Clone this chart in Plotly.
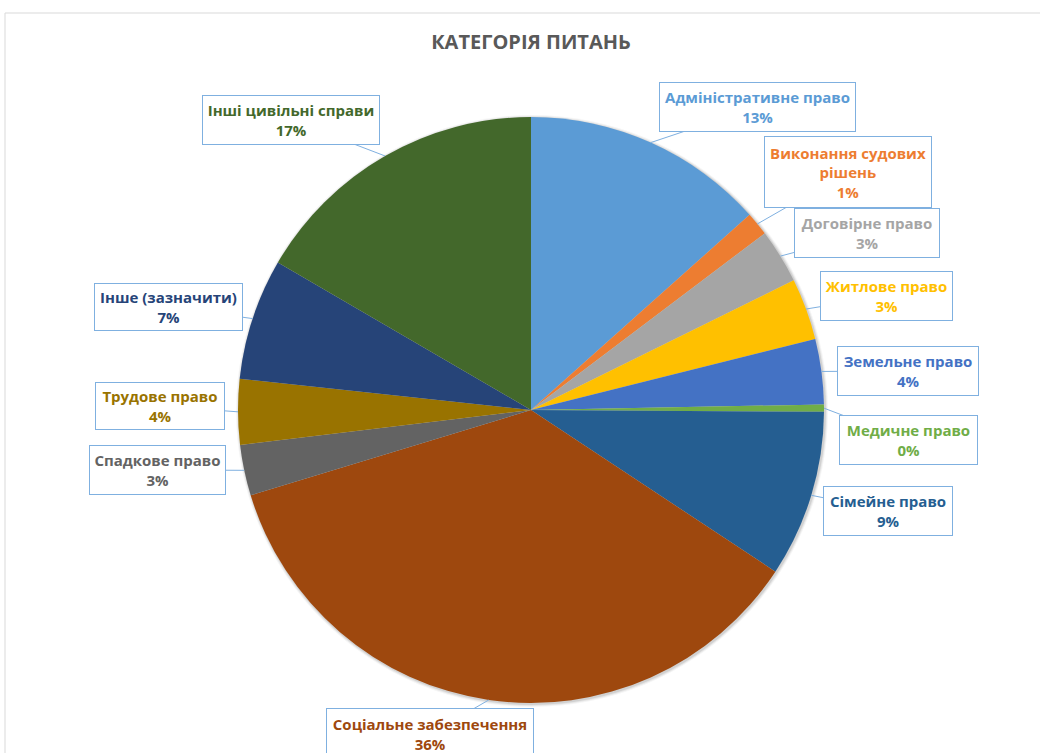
import math
import plotly.graph_objects as go

# ---- data ----
categories = [
    "Адміністративне право", "Виконання судових рішень", "Договірне право",
    "Житлове право", "Земельне право", "Медичне право", "Сімейне право",
    "Соціальне забезпечення", "Спадкове право", "Трудове право",
    "Інше (зазначити)", "Інші цивільні справи",
]
values = [13.4, 1.3, 3.0, 3.4, 3.6, 0.4, 9.2, 36.0, 2.8, 3.6, 6.7, 16.6]
label_text = [
    "Адміністративне право", "Виконання судових<br>рішень", "Договірне право",
    "Житлове право", "Земельне право", "Медичне право", "Сімейне право",
    "Соціальне забезпечення", "Спадкове право", "Трудове право",
    "Інше (зазначити)", "Інші цивільні справи",
]
colors = ["#5B9BD5", "#ED7D31", "#A5A5A5", "#FFC000", "#4472C4", "#70AD47",
          "#255E91", "#9E480E", "#636363", "#997300", "#264478", "#43682B"]
title_text = "КАТЕГОРІЯ ПИТАНЬ"

# ---- layout constants (pixels) ----
W, H = 1040, 753
CX, CY, R = 531, 410, 293
# label box centres and sizes (pixels)
box_pos = [(757, 107), (848, 172), (867, 233), (886, 296), (908, 371), (908, 440),
           (888, 511), (430, 734), (157, 470), (160, 406), (168, 307), (291, 120)]
box_size = [(195, 48), (166, 70), (144, 48), (131, 48), (140, 48), (137, 48),
            (128, 48), (206, 50), (135, 48), (128, 46), (147, 46), (176, 48)]

FONT = "Open Sans, Noto Sans, sans-serif"

fig = go.Figure(go.Pie(
    labels=categories, values=values, sort=False, direction="clockwise", rotation=0,
    marker=dict(colors=colors, line=dict(width=0)),
    textinfo="none", hoverinfo="label+percent", showlegend=False,
    domain=dict(x=[(CX - R) / W, (CX + R) / W], y=[1 - (CY + R) / H, 1 - (CY - R) / H]),
))

total = sum(values)
annotations = []
cum = 0.0
for i, v in enumerate(values):
    mid = (cum + v / 2) / total * 2 * math.pi
    cum += v
    tx = CX + R * math.sin(mid)
    ty = CY - R * math.cos(mid)
    bx, by = box_pos[i]
    bw, bh = box_size[i]
    pct = int(v / total * 100 + 0.5)
    annotations.append(dict(
        x=tx / W, y=1 - ty / H, xref="paper", yref="paper",
        ax=bx - tx, ay=by - ty, axref="pixel", ayref="pixel",
        text=f"<b>{label_text[i]}<br>{pct}%</b>",
        font=dict(family=FONT, size=15, color=colors[i]),
        showarrow=True, arrowhead=0, arrowwidth=1, arrowcolor="#7FB0E0",
        bordercolor="#7FB0E0", borderwidth=1, borderpad=0, bgcolor="white",
        width=bw, height=bh, align="center", valign="middle",
    ))

# soft shadow around the pie
shadow = []
for dr, op in [(3, 0.04), (2, 0.06), (1, 0.09)]:
    shadow.append(dict(type="circle", xref="paper", yref="paper", layer="below",
                       x0=(CX - R - dr + 1) / W, x1=(CX + R + dr + 1) / W,
                       y0=1 - (CY + R + dr + 1) / H, y1=1 - (CY - R - dr + 1) / H,
                       fillcolor=f"rgba(0,0,0,{op})", line=dict(width=0)))

fig.update_layout(
    width=W, height=H, margin=dict(l=0, r=0, t=0, b=0),
    paper_bgcolor="white", plot_bgcolor="white",
    title=dict(text=f"<b>{title_text}</b>", x=531 / W, y=1 - 42 / H,
               xanchor="center", yanchor="middle",
               font=dict(family=FONT, size=20, color="#595959")),
    annotations=annotations,
    shapes=[dict(type="rect", xref="paper", yref="paper",
                 x0=5 / W, x1=1.05, y0=-0.05, y1=1 - 13 / H,
                 line=dict(color="#D9D9D9", width=1), layer="below")] + shadow,
)

fig.write_html("out.html", config={"displayModeBar": False},
               post_script="document.body.style.margin='0';")
